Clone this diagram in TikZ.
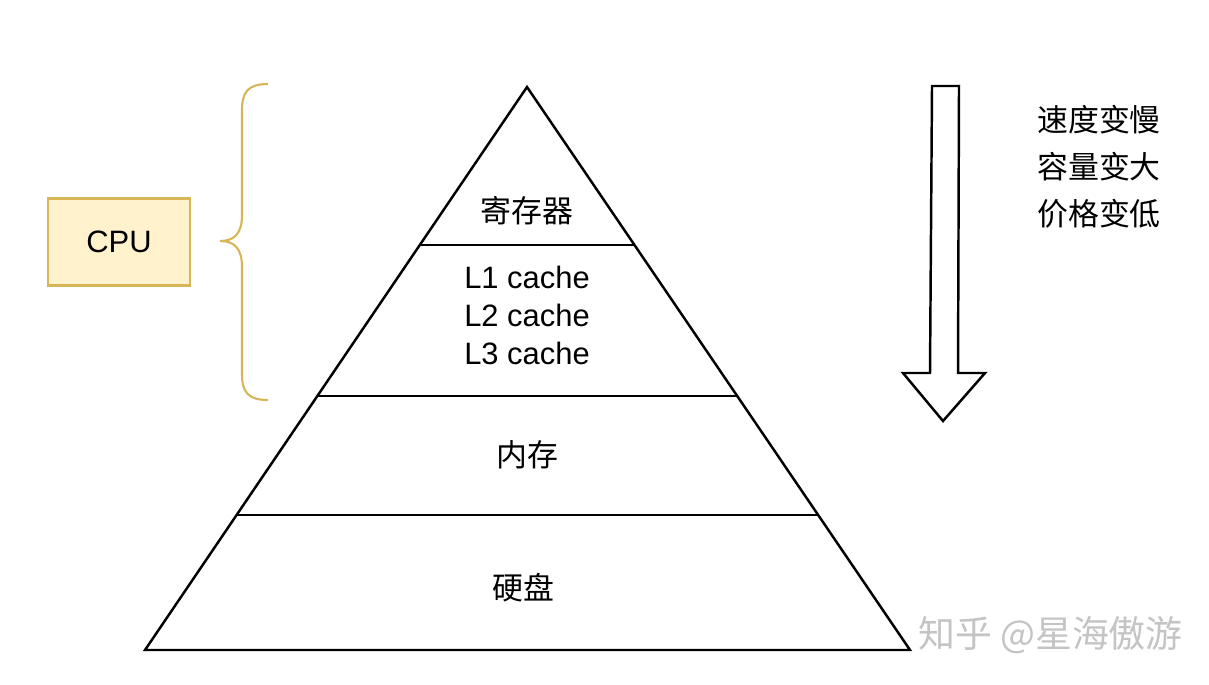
\documentclass[tikz,border=0pt]{standalone}
\usepackage{fontspec}
\setmainfont{Liberation Sans}
\newfontfamily\cjk{Noto Sans CJK SC}
\usetikzlibrary{calc,positioning}
\definecolor{ink}{HTML}{000000}
\definecolor{cpufill}{HTML}{FFF2CC}
\definecolor{cpuline}{HTML}{D6B656}
\definecolor{wmark}{HTML}{C4C4C4}

\begin{document}
\begin{tikzpicture}[
  x=0.02cm, y=-0.02cm,
  every node/.style={font=\fontsize{17.6}{21.6}\selectfont\cjk, text=ink},
  level/.style={draw=ink, line width=1.4pt, line join=miter},
  cpubox/.style={rectangle, draw=cpuline, fill=cpufill, line width=1.2pt, minimum width=2.84cm, minimum height=1.74cm, inner sep=0pt},
  bracket/.style={draw=cpuline, line width=1.2pt},
  blockarrow/.style={draw=ink, line width=1.4pt, fill=white, line join=miter},
  note/.style={align=left, anchor=west},
  wm/.style={font=\fontsize{21}{24}\selectfont\cjk, text=wmark, anchor=west}
]
\useasboundingbox (0,0) rectangle (1209,684);

% pyramid
\coordinate (apex) at (527,87);
\coordinate (baseL) at (145,650);
\coordinate (baseR) at (910,650);
\draw[level] (apex) -- (baseL) -- (baseR) -- cycle;
\foreach \yy/\nm in {245/a, 396/b, 515/c}{
  \draw[level] ($(apex)!{(\yy-87)/563}!(baseL)$) coordinate (\nm-west)
    -- ($(apex)!{(\yy-87)/563}!(baseR)$) coordinate (\nm-east);
}

\node (reg) at (527,211) {寄存器};
\node[align=center, font=\fontsize{17.6}{38\dimexpr 0.02cm\relax}\selectfont] (caches) at (527,315) {L1 cache\\L2 cache\\L3 cache};
\node (mem) at (527,455) {内存};
\node (disk) at (523,588) {硬盘};

% cpu + brace
\node[cpubox, font=\fontsize{17.6}{21.6}\selectfont] (cpu) at (119,242) {CPU};
\draw[bracket] (268,84) .. controls (248,84) and (242,92) .. (242,110)
  -- (242,215) .. controls (242,234) and (234,241) .. (220,241)
  .. controls (234,241) and (242,248) .. (242,267)
  -- (242,374) .. controls (242,392) and (248,400) .. (268,400);

% arrow
\draw[blockarrow] (932,86) -- (959,86) -- (958,373) -- (985,373) -- (943,421)
  -- (903,373) -- (930,373) -- cycle;

\node[note] (slow) at (1031,120) {速度变慢};
\node[note] (big) at (1031,167) {容量变大};
\node[note] (cheap) at (1031,214) {价格变低};

\node[wm] (mark) at (912,635) {知乎 @星海傲游};
\end{tikzpicture}
\end{document}
